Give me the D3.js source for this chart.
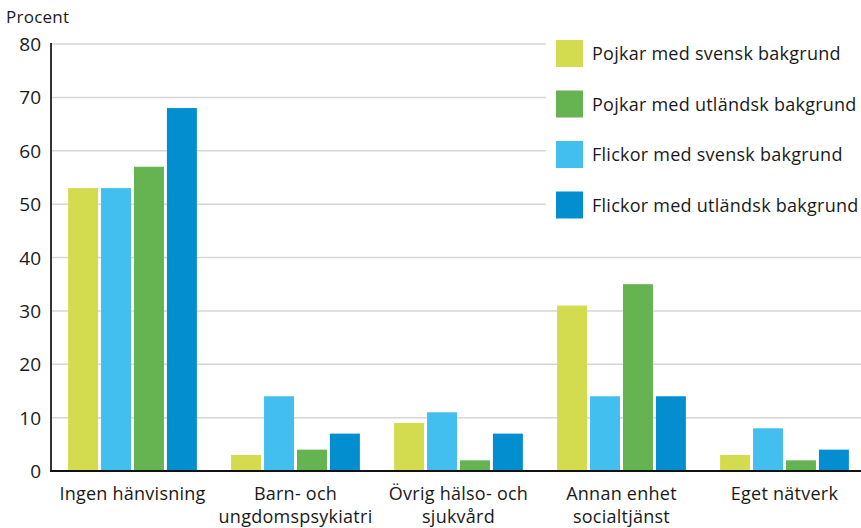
<!DOCTYPE html>
<html>
<head>
<meta charset="utf-8">
<script src="https://cdn.jsdelivr.net/npm/d3@7"></script>
<style>
  body { margin: 0; background: #fff; }
  svg text { font-family: "Open Sans", "Lato", sans-serif; fill: #1a1a1a; }
</style>
</head>
<body>
<svg id="chart" width="861" height="528"></svg>
<script>
// data
var categories = [
  ["Ingen hänvisning"],
  ["Barn- och", "ungdomspsykiatri"],
  ["Övrig hälso- och", "sjukvård"],
  ["Annan enhet", "socialtjänst"],
  ["Eget nätverk"]
];
var seriesNames = [
  "Pojkar med svensk bakgrund",
  "Flickor med svensk bakgrund",
  "Pojkar med utländsk bakgrund",
  "Flickor med utländsk bakgrund"
];
var pojkarSvensk   = [53, 3, 9, 31, 3];
var flickorSvensk  = [53, 14, 11, 14, 8];
var pojkarUtlandsk = [57, 4, 2, 35, 2];
var flickorUtlandsk = [68, 7, 7, 14, 4];
var seriesColors = ["#d3db4f", "#42bfee", "#65b351", "#038fcf"];
var legendOrder = [0, 2, 1, 3];
var yTicks = [0, 10, 20, 30, 40, 50, 60, 70, 80];

var values = [pojkarSvensk, flickorSvensk, pojkarUtlandsk, flickorUtlandsk];

var svg = d3.select("#chart");
var x0 = d3.scaleBand().domain(d3.range(categories.length)).range([51, 866]).paddingInner(0.21).paddingOuter(0.105);
var x1 = d3.scaleBand().domain(d3.range(seriesNames.length)).range([0, x0.bandwidth()]).paddingInner(0.09);
var y = d3.scaleLinear().domain([0, 80]).range([471, 44]);

// gridlines
svg.append("g").selectAll("line").data(yTicks.filter(function(d) { return d > 0; }))
  .enter().append("line")
    .attr("x1", 51).attr("x2", 861)
    .attr("y1", function(d) { return y(d); }).attr("y2", function(d) { return y(d); })
    .attr("stroke", "#d6d6d6").attr("stroke-width", 1.5);

// y tick labels
svg.append("g").selectAll("text").data(yTicks)
  .enter().append("text")
    .attr("x", 41).attr("y", function(d) { return y(d) + 7; })
    .attr("text-anchor", "end")
    .style("font-size", "19px")
    .text(function(d) { return d; });

svg.append("text").attr("x", 6).attr("y", 23).style("font-size", "17px")
  .style("letter-spacing", "0.25px").text("Procent");

// legend background + items
svg.append("rect").attr("x", 546).attr("y", 28).attr("width", 315).attr("height", 200).attr("fill", "#fff");
var leg = svg.append("g").selectAll("g").data(legendOrder).enter().append("g")
  .attr("transform", function(d, i) { return "translate(556," + (40 + i * 50.5) + ")"; });
leg.append("rect").attr("width", 27).attr("height", 27)
  .attr("fill", function(d) { return seriesColors[d]; });
leg.append("text").attr("x", 36).attr("y", 20).style("font-size", "18px")
  .style("letter-spacing", "0.25px")
  .text(function(d) { return seriesNames[d]; });

// bars
var groups = svg.append("g").selectAll("g").data(categories).enter().append("g")
  .attr("transform", function(d, i) { return "translate(" + x0(i) + ",0)"; });
groups.selectAll("rect")
  .data(function(d, i) { return values.map(function(s, j) { return {s: j, v: s[i]}; }); })
  .enter().append("rect")
    .attr("x", function(d) { return x1(d.s); })
    .attr("y", function(d) { return y(d.v); })
    .attr("width", x1.bandwidth())
    .attr("height", function(d) { return y(0) - y(d.v); })
    .attr("fill", function(d) { return seriesColors[d.s]; });

// axes lines
svg.append("line").attr("x1", 51).attr("x2", 51).attr("y1", 43).attr("y2", 472)
  .attr("stroke", "#333").attr("stroke-width", 2);
svg.append("line").attr("x1", 50).attr("x2", 861).attr("y1", 471).attr("y2", 471)
  .attr("stroke", "#111").attr("stroke-width", 2);

// category labels
groups.append("text")
  .attr("x", x0.bandwidth() / 2)
  .attr("text-anchor", "middle")
  .style("font-size", "18px")
  .style("letter-spacing", "0.25px")
  .selectAll("tspan").data(function(d) { return d; }).enter().append("tspan")
    .attr("x", x0.bandwidth() / 2)
    .attr("y", function(d, i) { return 500 + i * 23; })
    .text(function(d) { return d; });
</script>
</body>
</html>
